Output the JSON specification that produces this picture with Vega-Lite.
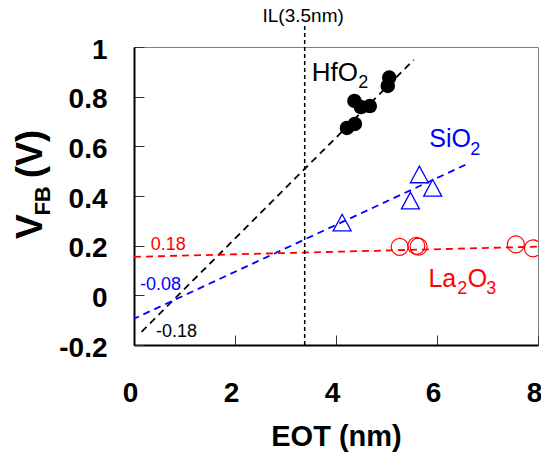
{
  "$schema": "https://vega.github.io/schema/vega-lite/v6.json",
  "width": 404,
  "height": 298,
  "autosize": {"type": "none"},
  "padding": {"left": 134, "top": 47, "right": 3, "bottom": 112},
  "background": "white",
  "config": {"view": {"stroke": "#808080", "strokeWidth": 1}, "font": "Liberation Sans"},
  "datasets": {
    "pts": [
      {"series": "HfO2", "x": 5.054, "y": 0.877},
      {"series": "HfO2", "x": 5.025, "y": 0.843},
      {"series": "HfO2", "x": 4.365, "y": 0.783},
      {"series": "HfO2", "x": 4.493, "y": 0.758},
      {"series": "HfO2", "x": 4.67, "y": 0.762},
      {"series": "HfO2", "x": 4.217, "y": 0.674},
      {"series": "HfO2", "x": 4.374, "y": 0.69},
      {"series": "SiO2", "x": 4.122, "y": 0.292},
      {"series": "SiO2", "x": 5.474, "y": 0.381},
      {"series": "SiO2", "x": 5.651, "y": 0.486},
      {"series": "SiO2", "x": 5.915, "y": 0.432},
      {"series": "La2O3", "x": 5.261, "y": 0.195},
      {"series": "La2O3", "x": 5.59, "y": 0.199},
      {"series": "La2O3", "x": 5.635, "y": 0.196},
      {"series": "La2O3", "x": 7.561, "y": 0.205},
      {"series": "La2O3", "x": 7.901, "y": 0.189}
    ],
    "fits": [
      {"series": "HfO2", "x": 0.15, "y": -0.147},
      {"series": "HfO2", "x": 5.54, "y": 0.948},
      {"series": "SiO2", "x": -0.03, "y": -0.097},
      {"series": "SiO2", "x": 6.63, "y": 0.532},
      {"series": "La2O3", "x": 0.0, "y": 0.155},
      {"series": "La2O3", "x": 8.0, "y": 0.196}
    ]
  },
  "layer": [
    {
      "data": {"name": "fits"},
      "mark": {"type": "line", "strokeDash": [7, 5], "strokeWidth": 1.8, "clip": true},
      "encoding": {
        "x": {
          "field": "x", "type": "quantitative",
          "scale": {"domain": [0, 8], "nice": false, "zero": false},
          "axis": {
            "values": [0, 2, 4, 6, 8], "grid": false, "title": "EOT (nm)",
            "labelFont": "Liberation Sans", "labelFontWeight": "bold", "labelFontSize": 28, "labelColor": "black",
            "labelPadding": 44, "labelOffset": -4, "labelFlush": false, "labelOverlap": false, "labelBound": false,
            "tickSize": -10, "tickColor": "#333333", "tickWidth": 1,
            "domainColor": "black", "domainWidth": 2,
            "titleFont": "Liberation Sans", "titleFontWeight": "bold", "titleFontSize": 29, "titleColor": "black", "titlePadding": 15
          }
        },
        "y": {
          "field": "y", "type": "quantitative",
          "scale": {"domain": [-0.2, 1], "nice": false, "zero": false},
          "axis": {
            "values": [-0.2, 0, 0.2, 0.4, 0.6, 0.8, 1], "grid": false, "title": null,
            "labelExpr": "toString(round(datum.value*10)/10)",
            "labelFont": "Liberation Sans", "labelFontWeight": "bold", "labelFontSize": 28, "labelColor": "black",
            "labelPadding": 37, "labelOffset": 3, "labelOverlap": false, "labelBound": false, "labelFlush": false,
            "tickSize": -10, "tickColor": "#333333", "tickWidth": 1,
            "domainColor": "black", "domainWidth": 2
          }
        },
        "color": {
          "field": "series", "type": "nominal",
          "scale": {"domain": ["HfO2", "SiO2", "La2O3"], "range": ["#000000", "#0000ff", "#ff0000"]},
          "legend": null
        }
      }
    },
    {
      "data": {"values": [{"label": "IL(3.5nm)"}]},
      "mark": {"type": "rule", "strokeDash": [4, 3], "strokeWidth": 1.5, "color": "black", "clip": false},
      "encoding": {"x": {"datum": 3.38}, "y": {"datum": -0.2}, "y2": {"datum": 1.097}}
    },
    {
      "data": {"name": "pts"},
      "transform": [{"filter": "datum.series == 'HfO2'"}],
      "mark": {"type": "point", "shape": "circle", "filled": true, "size": 210, "color": "black", "opacity": 1},
      "encoding": {"x": {"field": "x", "type": "quantitative"}, "y": {"field": "y", "type": "quantitative"}}
    },
    {
      "data": {"name": "pts"},
      "transform": [{"filter": "datum.series == 'SiO2'"}],
      "mark": {"type": "point", "shape": "M-1,0.9L1,0.9L0,-0.95Z", "filled": false, "size": 324, "color": "#0000ff", "strokeWidth": 1.3, "opacity": 1},
      "encoding": {"x": {"field": "x", "type": "quantitative"}, "y": {"field": "y", "type": "quantitative"}}
    },
    {
      "data": {"name": "pts"},
      "transform": [{"filter": "datum.series == 'La2O3'"}],
      "mark": {"type": "point", "shape": "circle", "filled": false, "size": 289, "color": "#ff0000", "strokeWidth": 1.2, "opacity": 1, "clip": true},
      "encoding": {"x": {"field": "x", "type": "quantitative"}, "y": {"field": "y", "type": "quantitative"}}
    },
    {
      "data": {"values": [{"label": "IL(3.5nm)"}]},
      "mark": {"type": "text", "align": "center", "baseline": "alphabetic", "fontSize": 19, "color": "black"},
      "encoding": {"x": {"datum": 3.35}, "y": {"datum": 1.1}, "text": {"field": "label"}}
    },
    {
      "data": {"values": [{"label": "HfO"}]},
      "mark": {"type": "text", "align": "left", "baseline": "alphabetic", "fontSize": 26, "color": "black"},
      "encoding": {"x": {"datum": 3.52}, "y": {"datum": 0.863}, "text": {"field": "label"}}
    },
    {
      "data": {"values": [{"label": "2"}]},
      "mark": {"type": "text", "align": "left", "baseline": "alphabetic", "fontSize": 18, "color": "black"},
      "encoding": {"x": {"datum": 4.44}, "y": {"datum": 0.835}, "text": {"field": "label"}}
    },
    {
      "data": {"values": [{"label": "SiO"}]},
      "mark": {"type": "text", "align": "left", "baseline": "alphabetic", "fontSize": 25, "color": "#0000ff"},
      "encoding": {"x": {"datum": 5.846}, "y": {"datum": 0.596}, "text": {"field": "label"}}
    },
    {
      "data": {"values": [{"label": "2"}]},
      "mark": {"type": "text", "align": "left", "baseline": "alphabetic", "fontSize": 18, "color": "#0000ff"},
      "encoding": {"x": {"datum": 6.66}, "y": {"datum": 0.565}, "text": {"field": "label"}}
    },
    {
      "data": {"values": [{"label": "La"}]},
      "mark": {"type": "text", "align": "left", "baseline": "alphabetic", "fontSize": 25, "color": "#ff0000"},
      "encoding": {"x": {"datum": 5.83}, "y": {"datum": 0.035}, "text": {"field": "label"}}
    },
    {
      "data": {"values": [{"label": "2"}]},
      "mark": {"type": "text", "align": "left", "baseline": "alphabetic", "fontSize": 18, "color": "#ff0000"},
      "encoding": {"x": {"datum": 6.4}, "y": {"datum": 0.005}, "text": {"field": "label"}}
    },
    {
      "data": {"values": [{"label": "O"}]},
      "mark": {"type": "text", "align": "left", "baseline": "alphabetic", "fontSize": 25, "color": "#ff0000"},
      "encoding": {"x": {"datum": 6.607}, "y": {"datum": 0.035}, "text": {"field": "label"}}
    },
    {
      "data": {"values": [{"label": "3"}]},
      "mark": {"type": "text", "align": "left", "baseline": "alphabetic", "fontSize": 18, "color": "#ff0000"},
      "encoding": {"x": {"datum": 6.975}, "y": {"datum": 0.005}, "text": {"field": "label"}}
    },
    {
      "data": {"values": [{"label": "0.18"}]},
      "mark": {"type": "text", "align": "left", "baseline": "alphabetic", "fontSize": 18, "color": "#ff0000"},
      "encoding": {"x": {"datum": 0.33}, "y": {"datum": 0.1825}, "text": {"field": "label"}}
    },
    {
      "data": {"values": [{"label": "-0.08"}]},
      "mark": {"type": "text", "align": "left", "baseline": "alphabetic", "fontSize": 18, "color": "#0000ff"},
      "encoding": {"x": {"datum": 0.118}, "y": {"datum": 0.021}, "text": {"field": "label"}}
    },
    {
      "data": {"values": [{"label": "-0.18"}]},
      "mark": {"type": "text", "align": "left", "baseline": "alphabetic", "fontSize": 18, "color": "black"},
      "encoding": {"x": {"datum": 0.434}, "y": {"datum": -0.169}, "text": {"field": "label"}}
    },
    {
      "data": {"values": [{"label": "V"}]},
      "mark": {"type": "text", "align": "center", "baseline": "alphabetic", "angle": 270, "fontSize": 37, "fontWeight": "bold", "color": "black"},
      "encoding": {"x": {"datum": -1.813}, "y": {"datum": 0.277}, "text": {"field": "label"}}
    },
    {
      "data": {"values": [{"label": "FB"}]},
      "mark": {"type": "text", "align": "center", "baseline": "alphabetic", "angle": 270, "fontSize": 22, "fontWeight": "bold", "color": "black"},
      "encoding": {"x": {"datum": -1.655}, "y": {"datum": 0.38}, "text": {"field": "label"}}
    },
    {
      "data": {"values": [{"label": "(V)"}]},
      "mark": {"type": "text", "align": "center", "baseline": "alphabetic", "angle": 270, "fontSize": 36, "fontWeight": "bold", "color": "black"},
      "encoding": {"x": {"datum": -1.813}, "y": {"datum": 0.569}, "text": {"field": "label"}}
    }
  ]
}
